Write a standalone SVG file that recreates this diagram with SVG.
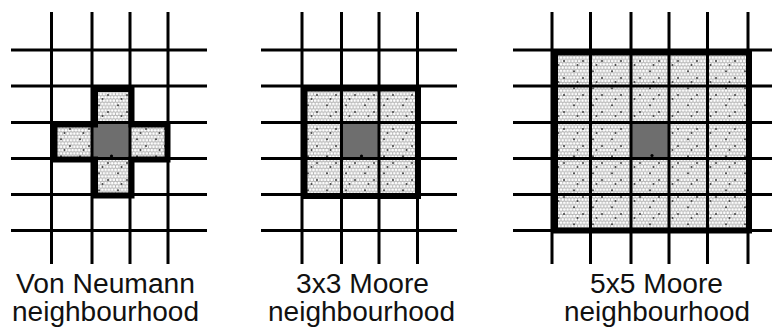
<svg xmlns="http://www.w3.org/2000/svg" width="772" height="327" viewBox="0 0 772 327">
<defs>
<pattern id="dots" width="6.6" height="6.6" patternUnits="userSpaceOnUse">
<rect width="6.6" height="6.6" fill="#b4b4b4"/>
<circle cx="1.65" cy="1.65" r="1.3" fill="#fff"/>
<circle cx="4.95" cy="1.65" r="1.3" fill="#fff"/>
<circle cx="0" cy="4.95" r="1.3" fill="#fff"/>
<circle cx="3.3" cy="4.95" r="1.3" fill="#fff"/>
<circle cx="6.6" cy="4.95" r="1.3" fill="#fff"/>
</pattern>
<pattern id="specks" width="19" height="17" patternUnits="userSpaceOnUse">
<circle cx="4" cy="3.3" r="1" fill="#444"/>
<circle cx="13" cy="9.9" r="1" fill="#444"/>
<circle cx="7.5" cy="14" r="1" fill="#444"/>
</pattern>
<style>
.g{stroke:#000;stroke-width:3;fill:none}
.b{stroke:#000;stroke-width:6;fill:none;stroke-linejoin:miter}
.n{fill:url(#dots)}
.s{fill:url(#specks)}
.c{fill:#6e6e6e}
.t{font-family:"Liberation Sans",Arial,sans-serif;font-size:27px;fill:#111;text-anchor:middle}
</style>
</defs>
<rect width="772" height="327" fill="#fff"/>

<g id="von-neumann">
<g>
<rect class="n" x="92" y="86" width="38" height="36.5"/>
<rect class="n" x="51.5" y="122.5" width="40.5" height="36"/>
<rect class="n" x="130" y="122.5" width="38" height="36"/>
<rect class="n" x="92" y="158.5" width="38" height="36"/>
<rect class="s" x="92" y="86" width="38" height="36.5"/>
<rect class="s" x="51.5" y="122.5" width="40.5" height="36"/>
<rect class="s" x="130" y="122.5" width="38" height="36"/>
<rect class="s" x="92" y="158.5" width="38" height="36"/>
<rect class="c" x="92" y="122.5" width="38" height="36"/>
</g>
<path class="g" d="M11 50H207M11 86H207M11 122.5H207M11 158.5H207M11 194.5H207M11 230.5H207M51.5 12V264M92 12V264M130 12V264M168 12V264"/>
<path class="b" d="M95 89H131.5V124.5H167.5V159.5H131.5V195.5H95V159.5H54.5V124.5H95Z"/>
<circle cx="111.5" cy="156" r="1.6" fill="#000"/>
<text class="t" x="105.5" y="293" textLength="179" lengthAdjust="spacingAndGlyphs">Von Neumann</text>
<text class="t" x="105.5" y="321" textLength="187" lengthAdjust="spacingAndGlyphs">neighbourhood</text>
</g>

<g id="moore-3x3">
<rect class="n" x="302" y="86" width="115.5" height="108.5"/>
<rect class="s" x="302" y="86" width="115.5" height="108.5"/>
<rect class="c" x="341.5" y="122.5" width="37.5" height="36"/>
<path class="g" d="M261 50H457M261 86H457M261 122.5H457M261 158.5H457M261 194.5H457M261 230.5H457M302 12V264M341.5 12V264M379 12V264M417.5 12V264"/>
<rect class="b" x="304.5" y="88.5" width="113.5" height="107.5"/>
<circle cx="361.5" cy="156" r="1.6" fill="#000"/>
<text class="t" x="362.5" y="293" textLength="133" lengthAdjust="spacingAndGlyphs">3x3 Moore</text>
<text class="t" x="361.5" y="321" textLength="187" lengthAdjust="spacingAndGlyphs">neighbourhood</text>
</g>

<g id="moore-5x5">
<rect class="n" x="552" y="50" width="196" height="180.5"/>
<rect class="s" x="552" y="50" width="196" height="180.5"/>
<rect class="c" x="631" y="122.5" width="38" height="36"/>
<path class="g" d="M513 50H772M513 86H772M513 122.5H772M513 158.5H772M513 194.5H772M513 230.5H772M552 12V264M590.5 12V264M631 12V264M669 12V264M707.5 12V264M748 12V264"/>
<rect class="b" x="555" y="52.5" width="194" height="178"/>
<circle cx="652" cy="155.5" r="1.6" fill="#000"/>
<text class="t" x="656.5" y="293" textLength="133" lengthAdjust="spacingAndGlyphs">5x5 Moore</text>
<text class="t" x="657" y="321" textLength="186" lengthAdjust="spacingAndGlyphs">neighbourhood</text>
</g>
</svg>
